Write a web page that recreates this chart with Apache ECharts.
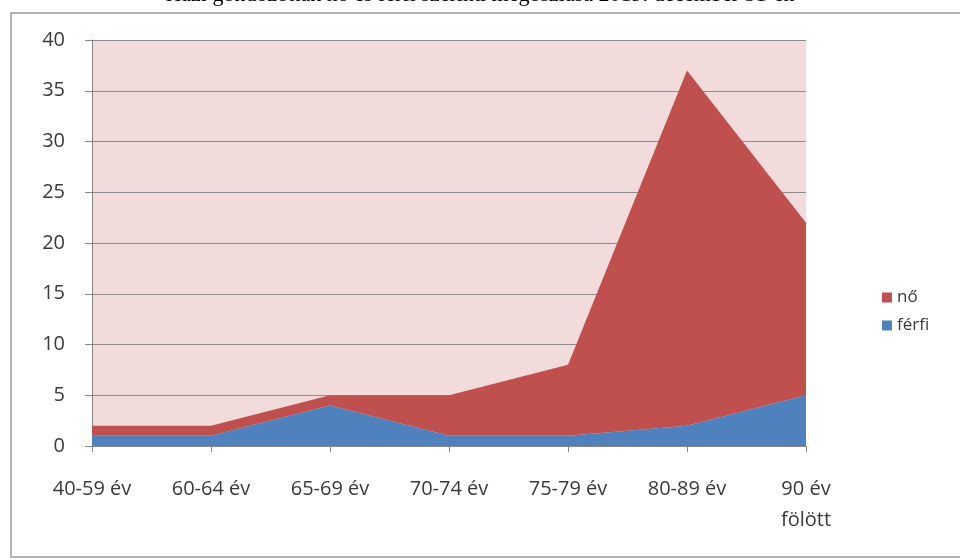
<!DOCTYPE html>
<html lang="hu" style="height: 100%">
<head>
  <meta charset="utf-8">
</head>
<body style="height: 100%; margin: 0; background: #fff">
  <div id="container" style="width: 960px; height: 560px"></div>

  <script type="text/javascript" src="https://fastly.jsdelivr.net/npm/echarts@6/dist/echarts.min.js"></script>
  <script type="text/javascript">
    var categories = ['40-59 év', '60-64 év', '65-69 év', '70-74 év', '75-79 év', '80-89 év', '90 év\nfölött'];
    var ferfi = [1, 1, 4, 1, 1, 2, 5];
    var no = [1, 1, 1, 4, 7, 35, 17];
    var yTicks = [0, 5, 10, 15, 20, 25, 30, 35, 40];

    var dom = document.getElementById('container');
    var myChart = echarts.init(dom, null, { renderer: 'canvas' });
    var font = 'Open Sans, Liberation Sans, sans-serif';
    var option = {
      animation: false,
      graphic: [
        {
          type: 'rect',
          shape: { x: 11, y: 13, width: 960, height: 544 },
          style: { fill: 'none', stroke: '#9a9a9a', lineWidth: 1.5 },
          z: -1
        },
        {
          type: 'text',
          left: 'center',
          top: -16,
          style: {
            text: 'Házi gondozottak nő és férfi szerinti megoszlása 2019. december 31-én',
            font: '22px "Liberation Serif", serif',
            fill: '#000'
          }
        }
      ],
      grid: {
        left: 92,
        right: 154,
        top: 40,
        bottom: 114,
        show: true,
        backgroundColor: '#f2dcdb',
        borderWidth: 0
      },
      legend: {
        orient: 'vertical',
        left: 877,
        top: 284,
        itemWidth: 10,
        itemHeight: 10,
        itemGap: 11,
        icon: 'rect',
        data: ['nő', 'férfi'],
        textStyle: { fontFamily: font, fontSize: 17, color: '#3a3a3a' }
      },
      xAxis: {
        type: 'category',
        boundaryGap: false,
        data: categories,
        axisLine: { lineStyle: { color: '#868686' } },
        axisTick: { show: true, length: 6, lineStyle: { color: '#868686' } },
        axisLabel: {
          fontFamily: font, fontSize: 20, color: '#3a3a3a', margin: 28,
          interval: 0, lineHeight: 31
        },
        splitLine: { show: false }
      },
      yAxis: {
        type: 'value',
        min: 0,
        max: 40,
        interval: 5,
        axisLine: { show: true, lineStyle: { color: '#868686' } },
        axisTick: { show: true, length: 7, lineStyle: { color: '#868686' } },
        axisLabel: {
          fontFamily: font, fontSize: 20, color: '#3a3a3a', margin: 27,
          formatter: function (v) { return yTicks.indexOf(v) >= 0 ? String(v) : ''; }
        },
        splitLine: { lineStyle: { color: '#8c8c8c', width: 1 } }
      },
      series: [
        {
          name: 'férfi',
          type: 'line',
          stack: 'total',
          data: ferfi,
          symbol: 'none',
          lineStyle: { width: 0 },
          itemStyle: { color: '#4f81bd' },
          areaStyle: { color: '#4f81bd', opacity: 1 },
          z: 3
        },
        {
          name: 'nő',
          type: 'line',
          stack: 'total',
          data: no,
          symbol: 'none',
          lineStyle: { width: 0 },
          itemStyle: { color: '#c0504d' },
          areaStyle: { color: '#c0504d', opacity: 1 },
          z: 2
        }
      ]
    };
    myChart.setOption(option);
    window.addEventListener('resize', myChart.resize);
  </script>
</body>
</html>
